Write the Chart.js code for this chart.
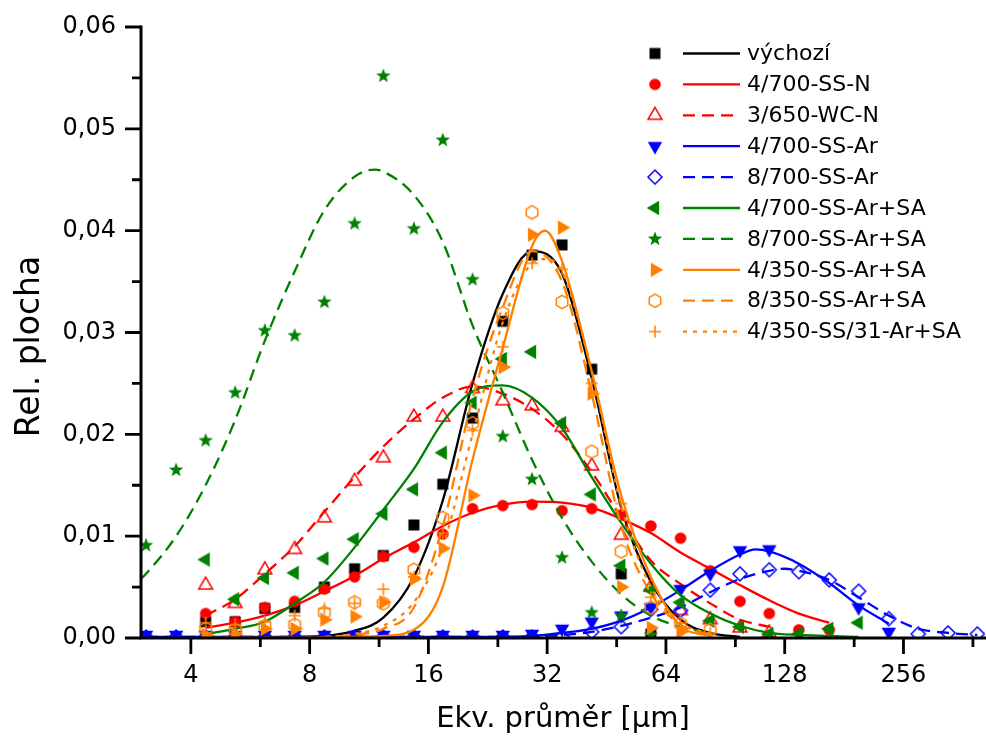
<!DOCTYPE html>
<html><head><meta charset="utf-8">
<script src="https://cdn.jsdelivr.net/npm/chart.js@4.4.1/dist/chart.umd.min.js"></script>
<style>html,body{margin:0;padding:0;background:#fff;}#wrap{width:986px;height:742px;}</style>
</head><body><div id="wrap"><canvas id="c" width="986" height="742"></canvas></div>
<script>
const N = null;
const xBins = [3.08,3.67,4.36,5.18,6.16,7.33,8.72,10.4,12.3,14.7,17.4,20.7,24.7,29.3,34.9,41.5,49.3,58.6,69.7,82.9,98.6,117,139,166,197,235,279,332,394];
const xTickValues = [4,8,16,32,64,128,256];
const xMinorTicks = [6,12,24,48,96,192,384];
const yTickValues = [0,0.01,0.02,0.03,0.04,0.05,0.06];
const yMinorTicks = [0.005,0.015,0.025,0.035,0.045,0.055];
const seriesNames = ['výchozí','4/700-SS-N','3/650-WC-N','4/700-SS-Ar','8/700-SS-Ar','4/700-SS-Ar+SA','8/700-SS-Ar+SA','4/350-SS-Ar+SA','8/350-SS-Ar+SA','4/350-SS/31-Ar+SA'];
const xTitle = 'Ekv. průměr [µm]';
const yTitle = 'Rel. plocha';

const vychoziPts = [N,N,.0016,.0016,.0029,.0030,.0050,.0068,.0081,.0111,.0151,.0216,.0311,.0376,.0386,.0264,.0063,.0004,N,N,N,N,N,N,N,N,N,N,N];
const ssNPts     = [N,N,.0024,.0016,.0030,.0036,.0048,.0060,.0080,.0089,.0102,.0127,.0130,.0131,.0125,.0127,.0121,.0110,.0098,.0066,.0036,.0024,.0008,.0008,N,N,N,N,N];
const wcNPts     = [N,N,.0052,.0034,.0067,.0087,.0118,.0154,.0177,.0217,.0217,.0245,.0233,.0228,.0207,.0169,.0101,.0050,.0027,.0018,.0010,.0005,N,N,N,N,N,N,N];
const ssAr4Pts   = [.0003,.0003,.0003,.0003,.0003,.0003,.0003,.0003,.0003,.0003,.0003,.0003,.0003,.0004,.0009,.0016,.0022,.0030,.0048,.0063,.0086,.0087,N,N,.0030,.0006,N,N,N];
const ssAr8Pts   = [.0001,.0001,.0001,.0001,.0001,.0001,.0001,.0001,.0001,.0001,.0001,.0001,.0001,.0001,.0001,.0006,.0011,.0028,.0027,.0047,.0063,.0067,.0065,.0057,.0046,.0019,.0004,.0005,.0004];
const sa4Pts     = [N,N,.0077,.0038,.0059,.0064,.0078,.0097,.0122,.0146,.0182,.0231,.0274,.0281,.0211,.0141,.0071,.0047,.0035,.0017,.0011,.0004,.0004,.0009,.0015,N,N,N,N];
const sa8Pts     = [.0091,.0165,.0194,.0241,.0302,.0297,.0330,.0407,.0552,.0402,.0489,.0352,.0198,.0156,.0079,.0025,.0022,.0003,N,N,N,N,N,N,N,N,N,N,N];
const sa350Pts   = [N,N,.0003,.0004,.0009,.0009,.0018,.0021,.0035,.0058,.0088,.0140,.0266,.0396,.0403,.0240,.0050,.0010,.0006,N,N,N,N,N,N,N,N,N,N];
const sa350_8Pts = [N,N,.0009,.0008,.0012,.0013,.0025,.0035,.0034,.0067,.0118,.0211,.0319,.0418,.0330,.0183,.0085,.0030,.0014,.0008,N,N,N,N,N,N,N,N,N];
const sa350_31Pts= [N,N,.0015,.0013,.0016,.0022,.0029,.0034,.0048,.0060,.0103,.0204,.0286,.0368,.0362,.0250,.0132,.0040,.0015,.0005,N,N,N,N,N,N,N,N,N];

const vychoziFit = [N,N,0,0,0,.0001,.0002,.0007,.0020,.0060,.0135,.0250,.0338,.0380,.0358,.0255,.0128,.0055,.0018,.0005,.0001,N,N,N,N,N,N,N,N];
const ssNFit     = [N,N,.0010,.0015,.0022,.0032,.0046,.0061,.0078,.0094,.0110,.0123,.0131,.0134,.0133,.0128,.0117,.0103,.0084,.0068,.0052,.0037,.0024,.0015,N,N,N,N,N];
const wcNFit     = [N,N,.0022,.0038,.0063,.0090,.0124,.0158,.0188,.0215,.0236,.0247,.0240,.0225,.0200,.0163,.0118,.0076,.0053,.0034,.0018,.0011,N,N,N,N,N,N,N];
const sa4Fit     = [N,N,.0004,.0009,.0016,.0034,.0055,.0089,.0126,.0166,.0212,.0242,.0248,.0236,.0206,.0158,.0113,.0073,.0042,.0024,.0012,.0005,.0003,.0002,.0001,N,N,N,N];
const ssAr4FitX  = [3.08,4.36,6.16,8.72,12.3,17.4,24.7,29.3,34.9,41.5,49.3,58.6,69.7,82.9,98.6,108,117,139,166,197,235];
const ssAr4FitY  = [.0001,.0001,.0001,.0001,.0001,.0001,.0001,.0002,.0005,.0009,.0017,.0030,.0047,.0066,.0082,.0087,.0085,.0073,.0054,.0032,.0014];
const ssAr8FitX  = [3.08,4.36,6.16,8.72,12.3,17.4,24.7,34.9,41.5,49.3,58.6,69.7,82.9,98.6,117,128,139,166,197,235,279,332,394];
const ssAr8FitY  = [.0001,.0001,.0001,.0001,.0001,.0001,.0001,.0003,.0006,.0012,.0020,.0030,.0045,.0058,.0066,.0068,.0066,.0057,.0040,.0022,.0009,.0005,.0003];
const sa8FitX    = [2.99,3.08,3.67,4.36,5.18,6.16,7.33,8.72,10.4,11.7,12.3,14.7,17.4,20.7,24.7,29.3,34.9,41.5,49.3,58.6,69.7,82.9];
const sa8FitY    = [.0058,.0063,.0100,.0150,.0214,.0292,.0360,.0420,.0453,.0460,.0458,.0435,.0389,.0307,.0241,.0175,.0118,.0075,.0043,.0022,.0011,.0005];
const sa350FitX  = [4.36,5.18,6.16,7.33,8.72,10.4,12.3,14.7,17.4,20.7,24.7,29.3,31.6,34.9,41.5,49.3,58.6,69.7,82.9];
const sa350FitY  = [0,0,0,0,0,.0001,.0002,.0008,.0050,.0175,.0285,.0385,.0400,.0370,.0262,.0140,.0060,.0012,.0002];
const sa350_8FitX= [4.36,5.18,6.16,7.33,8.72,10.4,12.3,14.7,17.4,20.7,24.7,29.3,34.9,41.5,49.3,58.6,69.7,82.9];
const sa350_8FitY= [0,0,0,0,.0001,.0003,.0009,.0030,.0110,.0235,.0325,.0380,.0350,.0240,.0110,.0044,.0013,.0003];
const sa350_31FitX=[4.36,5.18,6.16,7.33,8.72,10.4,12.3,14.7,17.4,20.7,24.7,29.3,31.6,34.9,41.5,49.3,58.6,69.7,82.9];
const sa350_31FitY=[0,0,0,0,.0001,.0004,.0012,.0035,.0090,.0200,.0310,.0368,.0372,.0360,.0262,.0130,.0050,.0015,.0004];

const FONT = "'DejaVu Sans', sans-serif";
const BLACK='#000000', RED='#FF0000', BLUE='#0000FF', GREEN='#008000', ORANGE='#FF8000';
const DASH=[12,7], DOT=[4,6], SOLID=[];

function binned(vals){ const o=[]; vals.forEach((v,i)=>{ if(v!==null) o.push({x:xBins[i],y:v}); }); return o; }
function paired(xs,ys){ return xs.map((x,i)=>({x:x,y:ys[i]})); }

function makeMarker(kind,color){
  const s=22,c=11; const cv=document.createElement('canvas'); cv.width=s; cv.height=s;
  const g=cv.getContext('2d'); g.fillStyle=color; g.strokeStyle=color; g.lineWidth=1.5; g.beginPath();
  const poly=(n,r,ang)=>{ for(let j=0;j<n;j++){ const a=ang+j*2*Math.PI/n; const px=c+r*Math.sin(a), py=c-r*Math.cos(a); j?g.lineTo(px,py):g.moveTo(px,py);} g.closePath(); };
  switch(kind){
    case 'square': g.rect(c-5.5,c-5.5,11,11); g.fill(); break;
    case 'circle': g.arc(c,c,5.8,0,2*Math.PI); g.fill(); break;
    case 'triUpOpen': poly(3,8,0); g.stroke(); break;
    case 'triDown': poly(3,8.3,Math.PI); g.fill(); break;
    case 'triLeft': poly(3,8.3,-Math.PI/2); g.fill(); break;
    case 'triRight': poly(3,8.3,Math.PI/2); g.fill(); break;
    case 'diamondOpen': poly(4,7,0); g.stroke(); break;
    case 'star': for(let j=0;j<10;j++){ const r=j%2?3.2:7.6; const a=j*Math.PI/5; const px=c+r*Math.sin(a), py=c-r*Math.cos(a); j?g.lineTo(px,py):g.moveTo(px,py);} g.closePath(); g.fill(); break;
    case 'hexOpen': poly(6,6.6,0); g.stroke(); break;
    case 'plus': g.moveTo(c-6,c); g.lineTo(c+6,c); g.moveTo(c,c-6); g.lineTo(c,c+6); g.stroke(); break;
  }
  return cv;
}

const styles = [
  {color:BLACK, marker:'square', dash:SOLID},
  {color:RED, marker:'circle', dash:SOLID},
  {color:RED, marker:'triUpOpen', dash:DASH},
  {color:BLUE, marker:'triDown', dash:SOLID},
  {color:BLUE, marker:'diamondOpen', dash:DASH},
  {color:GREEN, marker:'triLeft', dash:SOLID},
  {color:GREEN, marker:'star', dash:DASH},
  {color:ORANGE, marker:'triRight', dash:SOLID},
  {color:ORANGE, marker:'hexOpen', dash:DASH},
  {color:ORANGE, marker:'plus', dash:DOT}
];
styles.forEach(s=>{ s.img = makeMarker(s.marker, s.color); });

const pointSets = [binned(vychoziPts), binned(ssNPts), binned(wcNPts), binned(ssAr4Pts), binned(ssAr8Pts), binned(sa4Pts), binned(sa8Pts), binned(sa350Pts), binned(sa350_8Pts), binned(sa350_31Pts)];
const fitSets = [binned(vychoziFit), binned(ssNFit), binned(wcNFit), paired(ssAr4FitX,ssAr4FitY), paired(ssAr8FitX,ssAr8FitY), binned(sa4Fit), paired(sa8FitX,sa8FitY), paired(sa350FitX,sa350FitY), paired(sa350_8FitX,sa350_8FitY), paired(sa350_31FitX,sa350_31FitY)];

const datasets = [];
seriesNames.forEach((name,i)=>{
  const st = styles[i];
  datasets.push({label:name+' fit', data:fitSets[i], showLine:true, borderColor:st.color, borderWidth:2.3, borderDash:st.dash,
    pointRadius:0, pointHoverRadius:0, cubicInterpolationMode:'monotone', fill:false, order:-(2*i)});
  datasets.push({label:name, data:pointSets[i], showLine:false, pointStyle:st.img, pointRadius:7, pointHoverRadius:7,
    backgroundColor:st.color, borderColor:st.color, order:-(2*i+1)});
});

const originAxes = {
  id:'originAxes',
  afterDatasetsDraw(chart){
    const {ctx, chartArea:a, scales:{x,y}} = chart;
    const y0 = y.getPixelForValue(0), yTop = y.getPixelForValue(0.06);
    ctx.save(); ctx.strokeStyle='#000'; ctx.lineCap='butt';
    ctx.lineWidth=3; ctx.beginPath();
    ctx.moveTo(a.left, y0+1.5); ctx.lineTo(a.left, yTop-1.5);
    ctx.moveTo(a.left-1.5, y0); ctx.lineTo(a.right+2, y0);
    ctx.stroke();
    ctx.lineWidth=2.8; ctx.beginPath();
    yTickValues.forEach(v=>{ const p=y.getPixelForValue(v); ctx.moveTo(a.left-16,p); ctx.lineTo(a.left,p); });
    yMinorTicks.forEach(v=>{ const p=y.getPixelForValue(v); ctx.moveTo(a.left-9,p); ctx.lineTo(a.left,p); });
    xTickValues.forEach(v=>{ const p=x.getPixelForValue(v); ctx.moveTo(p,y0); ctx.lineTo(p,y0+16); });
    xMinorTicks.forEach(v=>{ const p=x.getPixelForValue(v); ctx.moveTo(p,y0); ctx.lineTo(p,y0+9); });
    ctx.stroke();
    ctx.translate(30, (a.top + a.bottom)/2 + 14); ctx.rotate(-Math.PI/2);
    ctx.fillStyle='#000'; ctx.font='33px '+FONT; ctx.textAlign='center'; ctx.textBaseline='middle';
    ctx.fillText(yTitle, 0, 0);
    ctx.restore();
  }
};
const LEG = {markerX:655, lineX0:683, lineX1:740, textX:747, y0:53.5, dy:30.9};
const originLegend = {
  id:'originLegend',
  afterDraw(chart){
    const ctx = chart.ctx; ctx.save();
    seriesNames.forEach((name,i)=>{
      const st = styles[i]; const yy = LEG.y0 + i*LEG.dy;
      ctx.strokeStyle=st.color; ctx.lineWidth=2.3; ctx.setLineDash(st.dash);
      ctx.beginPath(); ctx.moveTo(LEG.lineX0,yy); ctx.lineTo(LEG.lineX1,yy); ctx.stroke(); ctx.setLineDash([]);
      ctx.drawImage(st.img, LEG.markerX-st.img.width/2, yy-st.img.height/2);
      ctx.fillStyle='#000'; ctx.font='22px '+FONT; ctx.textBaseline='middle'; ctx.textAlign='left';
      ctx.fillText(name, LEG.textX, yy+1);
    });
    ctx.restore();
  }
};

new Chart(document.getElementById('c'), {
  type:'scatter',
  data:{datasets},
  options:{
    responsive:false, animation:false, devicePixelRatio:1,
    layout:{autoPadding:false, padding:{top:27,right:1,left:0,bottom:0}},
    plugins:{legend:{display:false}, tooltip:{enabled:false}},
    scales:{
      x:{type:'logarithmic', min:2.99, max:412, bounds:'data',
        afterBuildTicks(s){ s.ticks = xTickValues.map(v=>({value:v})); },
        afterFit(s){ s.height = 104; s.paddingLeft = 0; s.paddingRight = 0; },
        grid:{display:false, drawTicks:false}, border:{display:false},
        ticks:{autoSkip:false, maxRotation:0, minRotation:0, padding:23, color:'#000', font:{family:FONT,size:24}, callback:(v)=>String(v)},
        title:{display:true, text:xTitle, color:'#000', font:{family:FONT,size:29}, padding:{top:0,bottom:5}}
      },
      y:{min:0, max:0.06,
        afterBuildTicks(s){ s.ticks = yTickValues.map(v=>({value:v})); },
        afterFit(s){ s.width = 141; s.paddingTop = 0; s.paddingBottom = 0; },
        grid:{display:false, drawTicks:false}, border:{display:false},
        ticks:{padding:25, color:'#000', font:{family:FONT,size:24}, callback:(v)=>Number(v).toFixed(2).replace('.',',')},
        title:{display:false}
      }
    }
  },
  plugins:[originAxes, originLegend]
});
</script>
</body></html>
